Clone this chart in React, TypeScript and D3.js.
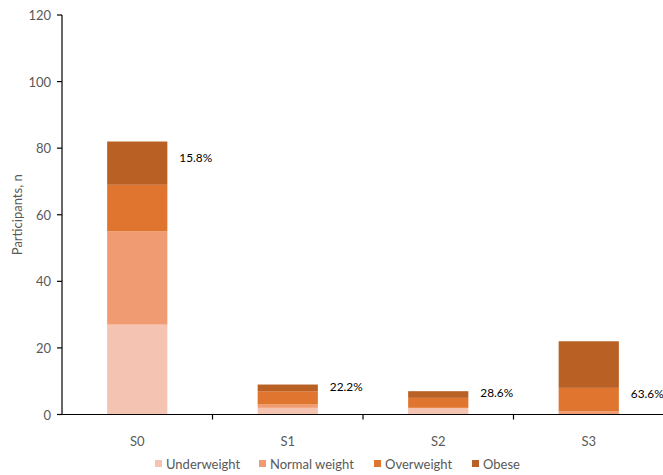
import React from "react";
import * as d3 from "d3";

const categories = ["S0", "S1", "S2", "S3"];
const seriesNames = ["Underweight", "Normal weight", "Overweight", "Obese"];
const underweight = [27, 2, 2, 0];
const normalWeight = [28, 1, 0, 1];
const overweight = [14, 4, 3, 7];
const obese = [13, 2, 2, 14];
const pctLabels = ["15.8%", "22.2%", "28.6%", "63.6%"];
const pctLabelAt = [77.3, 8.4, 6.6, 6.2];
const yTicks = [0, 20, 40, 60, 80, 100, 120];
const colors = ["#F5C3B1", "#F09B72", "#E0752F", "#B96025"];

const W = 663;
const H = 475;
const FONT = "Lato, 'Open Sans', sans-serif";

export default function App() {
  const x = d3.scaleBand<string>().domain(categories).range([62, 664]).padding(0);
  const y = d3.scaleLinear().domain([0, 120]).range([414.5, 15]);
  const barW = x.bandwidth() * 0.4;

  const table = categories.map((c, i) => ({
    cat: c,
    Underweight: underweight[i],
    "Normal weight": normalWeight[i],
    Overweight: overweight[i],
    Obese: obese[i],
  }));
  const stacked = d3.stack<any>().keys(seriesNames)(table);

  const legendX = [155, 259, 374, 472];

  return (
    <svg width={W} height={H} style={{ position: "absolute", left: 0, top: 0, background: "#fff" }} fontFamily={FONT}>
      {stacked.map((layer, si) =>
        layer.map((d, ci) => {
          const cx = (x(categories[ci]) as number) + x.bandwidth() / 2;
          const h = y(d[0]) - y(d[1]);
          if (h <= 0) return null;
          return (
            <rect key={`${si}-${ci}`} x={cx - barW / 2} y={y(d[1])} width={barW} height={h} fill={colors[si]} />
          );
        })
      )}
      {categories.map((c, i) => {
        const cx = (x(c) as number) + x.bandwidth() / 2;
        return (
          <text key={c} x={cx + barW / 2 + 12} y={y(pctLabelAt[i])} dominantBaseline="central" fontSize={11.8} fill="#000">
            {pctLabels[i]}
          </text>
        );
      })}
      <line x1={62} x2={62} y1={y(120)} y2={y(0)} stroke="#000" strokeWidth={1.2} />
      {yTicks.map((t) => (
        <g key={t}>
          <line x1={57} x2={62} y1={y(t)} y2={y(t)} stroke="#000" strokeWidth={1.2} />
          <text x={51} y={y(t)} textAnchor="end" dominantBaseline="central" fontSize={13} fill="#595959">
            {t}
          </text>
        </g>
      ))}
      <line x1={62} x2={663} y1={y(0)} y2={y(0)} stroke="#000" strokeWidth={1.2} />
      {categories.map((c, i) => (
        <g key={c}>
          {i > 0 && (
            <line x1={x(c) as number} x2={x(c) as number} y1={y(0)} y2={y(0) + 5} stroke="#000" strokeWidth={1.2} />
          )}
          <text x={(x(c) as number) + x.bandwidth() / 2} y={441} textAnchor="middle" dominantBaseline="central" fontSize={13} fill="#595959">
            {c}
          </text>
        </g>
      ))}
      <text transform={`translate(17,${(y(0) + y(120)) / 2}) rotate(-90)`} textAnchor="middle" dominantBaseline="central" fontSize={13} fill="#595959">
        Participants, n
      </text>
      {seriesNames.map((s, i) => (
        <g key={s}>
          <rect x={legendX[i]} y={460} width={7} height={7} fill={colors[i]} />
          <text x={legendX[i] + 11} y={464} dominantBaseline="central" fontSize={13} fill="#595959">
            {s}
          </text>
        </g>
      ))}
    </svg>
  );
}
